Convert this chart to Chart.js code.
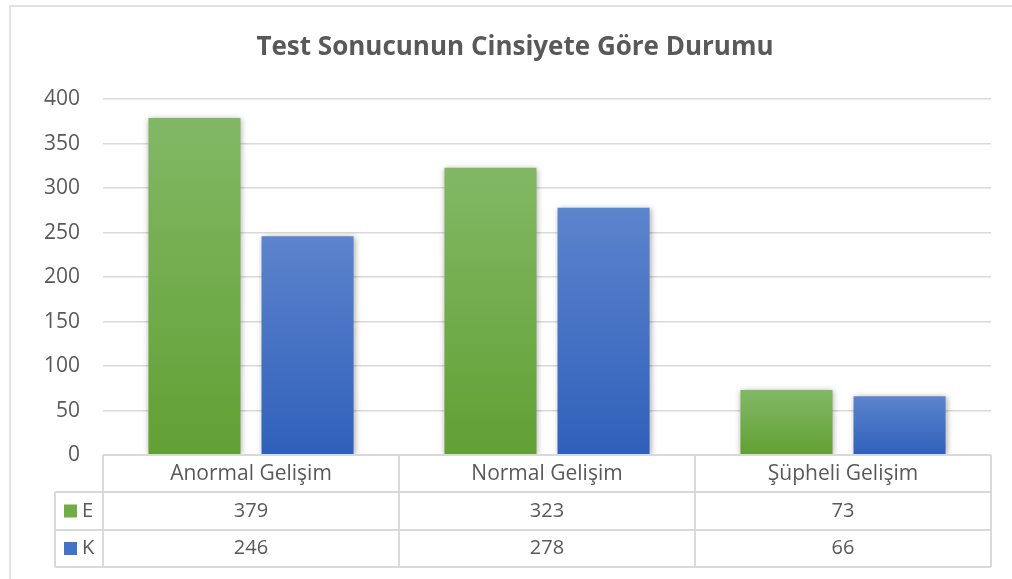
<!DOCTYPE html>
<html>
<head>
<meta charset="utf-8">
<script src="https://cdn.jsdelivr.net/npm/chart.js@4.4.1/dist/chart.umd.min.js"></script>
<style>
html,body{margin:0;padding:0;background:#fff;}
#wrap{position:relative;width:1012px;height:579px;}
</style>
</head>
<body>
<div id="wrap"><canvas id="c" width="1012" height="579"></canvas></div>
<script>
const titleText = "Test Sonucunun Cinsiyete Göre Durumu";
const categories = ["Anormal Gelişim", "Normal Gelişim", "Şüpheli Gelişim"];
const seriesNames = ["E", "K"];
const valuesE = [379, 323, 73];
const valuesK = [246, 278, 66];
const yTicks = [0, 50, 100, 150, 200, 250, 300, 350, 400];

const FONT = "'Open Sans'";
const TXT = "#595959";
const LINE = "#d9d9d9";
const colorTop = ["#82b865", "#5d84cd"];
const colorBot = ["#61a033", "#2f60ba"];
const colorKey = ["#70ad47", "#4472c4"];

function barGradient(ctx) {
  const chart = ctx.chart;
  const ca = chart.chartArea;
  if (!ca || ctx.type !== 'data') return colorKey[ctx.datasetIndex];
  const y = chart.scales.y;
  const top = y.getPixelForValue(ctx.raw);
  const base = y.getPixelForValue(0);
  const g = chart.ctx.createLinearGradient(0, top, 0, base);
  g.addColorStop(0, colorTop[ctx.datasetIndex]);
  g.addColorStop(1, colorBot[ctx.datasetIndex]);
  return g;
}

const shadowPlugin = {
  id: 'shadow',
  beforeDatasetsDraw(chart) {
    const c = chart.ctx;
    c.save();
    c.shadowColor = 'rgba(0,0,0,0.35)';
    c.shadowBlur = 6;
    c.shadowOffsetX = 1;
    c.shadowOffsetY = 1;
  },
  afterDatasetsDraw(chart) { chart.ctx.restore(); }
};

const tablePlugin = {
  id: 'dataTable',
  afterDraw(chart) {
    const c = chart.ctx;
    const ca = chart.chartArea;
    const xs = chart.scales.x;
    const n = categories.length;
    const w = (ca.right - ca.left) / n;
    const rowTop = ca.bottom;
    const rowH = [37, 38, 37];
    const r1 = rowTop + rowH[0], r2 = r1 + rowH[1], r3 = r2 + rowH[2];
    const legLeft = 55;
    c.save();
    // outer chart border
    c.strokeStyle = LINE; c.lineWidth = 1.5;
    c.beginPath();
    c.moveTo(10, 579); c.lineTo(10, 6); c.lineTo(1012, 6);
    c.stroke();
    // table grid
    c.lineWidth = 2; c.strokeStyle = LINE;
    c.beginPath();
    c.moveTo(ca.left, rowTop); c.lineTo(ca.right, rowTop);
    c.moveTo(legLeft, r1); c.lineTo(ca.right, r1);
    c.moveTo(legLeft, r2); c.lineTo(ca.right, r2);
    c.moveTo(legLeft, r3); c.lineTo(ca.right, r3);
    c.moveTo(legLeft, r1); c.lineTo(legLeft, r3);
    for (let i = 0; i <= n; i++) {
      const x = ca.left + i * w;
      c.moveTo(x, rowTop); c.lineTo(x, r3);
    }
    c.stroke();
    // texts
    c.fillStyle = TXT;
    c.textAlign = 'center';
    c.textBaseline = 'middle';
    const rows = [valuesE, valuesK];
    for (let i = 0; i < n; i++) {
      const cx = xs.getPixelForValue(i);
      c.font = "21px " + FONT;
      c.fillText(categories[i], cx, rowTop + rowH[0] / 2 + 1);
      c.font = "20px " + FONT;
      c.fillText(String(rows[0][i]), cx, r1 + rowH[1] / 2);
      c.fillText(String(rows[1][i]), cx, r2 + rowH[2] / 2);
    }
    // legend keys
    const ys = [r1 + rowH[1] / 2, r2 + rowH[2] / 2];
    c.font = "20px " + FONT;
    for (let s = 0; s < 2; s++) {
      c.fillStyle = colorKey[s];
      c.fillRect(64, ys[s] - 6.5, 13, 13);
      c.fillStyle = TXT;
      c.textAlign = 'left';
      c.fillText(seriesNames[s], 82, ys[s]);
    }
    c.restore();
  }
};

new Chart(document.getElementById('c'), {
  type: 'bar',
  data: {
    labels: categories,
    datasets: [
      { label: seriesNames[0], data: valuesE, backgroundColor: barGradient, borderWidth: 0 },
      { label: seriesNames[1], data: valuesK, backgroundColor: barGradient, borderWidth: 0 }
    ]
  },
  options: {
    responsive: false,
    animation: false,
    devicePixelRatio: 1,
    layout: { padding: { top: 0, left: 39, right: 21, bottom: 124 } },
    datasets: { bar: { barPercentage: 0.814, categoryPercentage: 0.764 } },
    plugins: {
      legend: { display: false },
      tooltip: { enabled: false },
      title: {
        display: true, text: titleText, color: TXT,
        font: { family: FONT, size: 26, weight: 'bold' },
        padding: { top: 32, bottom: 36 }
      }
    },
    scales: {
      x: { display: false },
      y: {
        min: 0, max: 400,
        afterFit(scale) { scale.width = 64; },
        afterBuildTicks(scale) { scale.ticks = yTicks.map(v => ({ value: v })); },
        border: { display: false },
        grid: { color: LINE, lineWidth: 1.5, drawTicks: false },
        ticks: { color: TXT, padding: 23, font: { family: FONT, size: 21 } }
      }
    }
  },
  plugins: [shadowPlugin, tablePlugin]
});
</script>
</body>
</html>
